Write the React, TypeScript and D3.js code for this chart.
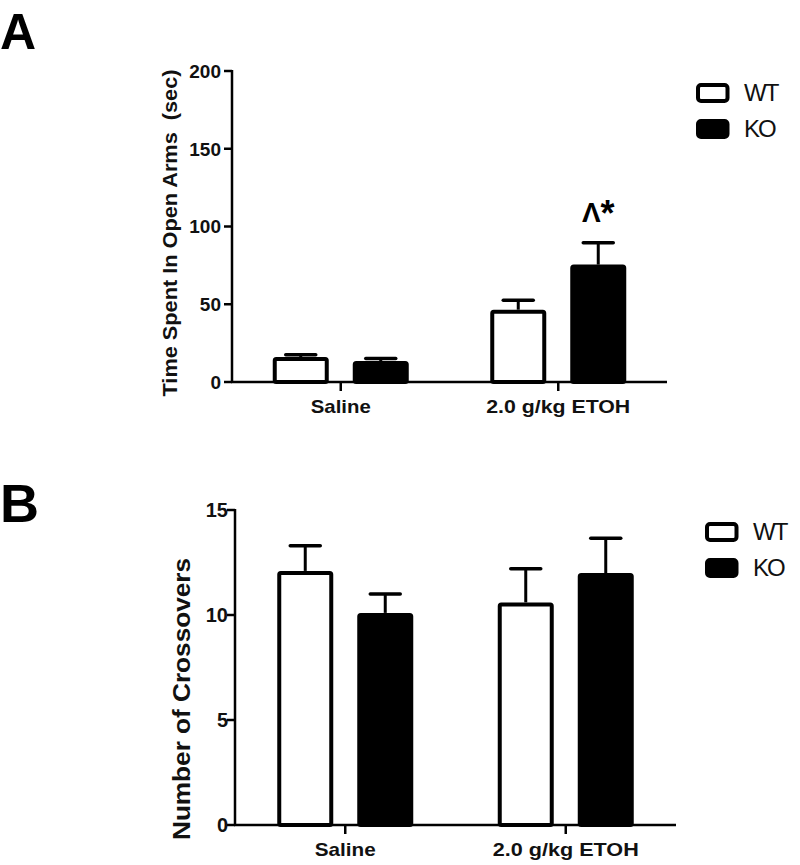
import React from "react";
import * as d3 from "d3";

const categories = ["Saline", "2.0 g/kg ETOH"];
const series = ["WT", "KO"];

// Panel A: Time spent in open arms (sec)
const openArmsMean = [
  [16, 46.5], // WT
  [13.5, 75.5], // KO
];
const openArmsSem = [
  [1.6, 6],
  [1.6, 14],
];
const openArmsTicks = [0, 50, 100, 150, 200];

// Panel B: Number of crossovers
const crossMean = [
  [12.1, 10.6], // WT
  [10.1, 12.0], // KO
];
const crossSem = [
  [1.2, 1.6],
  [0.9, 1.65],
];
const crossTicks = [0, 5, 10, 15];

const FONT = "'Liberation Sans', Arial, Helvetica, sans-serif";
const fills = ["#ffffff", "#000000"];

type PanelProps = {
  letter: string;
  letterY: number;
  letterSize: number;
  x0: number;
  x1: number;
  yTop: number;
  yBottom: number;
  yMax: number;
  ticks: number[];
  means: number[][];
  sems: number[][];
  yLabel: string;
  yLabelX: number;
  yLabelY: number;
  yLabelSize: number;
  yLabelLen: number;
  tickSize: number;
  tickRight: number;
  catBaseline: number;
  catSize: number;
  catLens: number[];
  legendX: number;
  legendY: number;
  annotation?: { s: number; c: number; text: string };
};

function Panel(p: PanelProps) {
  const y = d3.scaleLinear().domain([0, p.yMax]).range([p.yBottom, p.yTop]);
  const x = d3.scalePoint<string>().domain(categories).range([p.x0, p.x1]).padding(0.5);
  const sub = d3.scaleBand<string>().domain(series).range([-68, 68]).paddingInner(0.3).paddingOuter(0);
  const sw = 4;
  const capW = 30;
  return (
    <g>
      <text x={0} y={p.letterY} fontFamily={FONT} fontWeight="bold" fontSize={p.letterSize} fill="#000">
        {p.letter}
      </text>
      {/* bars */}
      {series.map((s, si) =>
        categories.map((c, ci) => {
          const v = p.means[si][ci];
          const e = p.sems[si][ci];
          const cx = (x(c) as number) + (sub(s) as number) + sub.bandwidth() / 2;
          const left = (x(c) as number) + (sub(s) as number) + sw / 2;
          const w = sub.bandwidth() - sw;
          const top = y(v);
          const capY = y(v + e);
          return (
            <g key={s + c}>
              <line x1={cx} x2={cx} y1={top} y2={capY} stroke="#000" strokeWidth={3} />
              <line x1={cx - capW / 2} x2={cx + capW / 2} y1={capY} y2={capY} stroke="#000" strokeWidth={3.5} strokeLinecap="round" />
              <rect x={left} y={top + sw / 2} width={w} height={p.yBottom - top - sw / 2} fill={fills[si]} stroke="#000" strokeWidth={sw} rx={1.5} />
            </g>
          );
        })
      )}
      {/* y axis */}
      <line x1={p.x0} x2={p.x0} y1={p.yTop - 1} y2={p.yBottom} stroke="#000" strokeWidth={2.5} />
      {p.ticks.map((t) => (
        <g key={t}>
          <line x1={p.x0 - 8} x2={p.x0} y1={y(t)} y2={y(t)} stroke="#000" strokeWidth={2.5} />
          <text x={p.tickRight} y={y(t)} dy="0.36em" textAnchor="end" fontFamily={FONT} fontWeight="bold" fontSize={p.tickSize} fill="#111">
            {t}
          </text>
        </g>
      ))}
      {/* x axis */}
      <line x1={p.x0 - 1} x2={p.x1} y1={p.yBottom} y2={p.yBottom} stroke="#000" strokeWidth={2.5} />
      {categories.map((c, ci) => (
        <g key={c}>
          <line x1={x(c)} x2={x(c)} y1={p.yBottom} y2={p.yBottom + 9} stroke="#000" strokeWidth={2.5} />
          <text
            x={x(c)}
            y={p.catBaseline}
            textAnchor="middle"
            fontFamily={FONT}
            fontWeight="bold"
            fontSize={p.catSize}
            fill="#111"
            textLength={p.catLens[ci]}
            lengthAdjust="spacingAndGlyphs"
          >
            {c}
          </text>
        </g>
      ))}
      {/* y label */}
      <text
        transform={`translate(${p.yLabelX},${p.yLabelY}) rotate(-90)`}
        textAnchor="middle"
        fontFamily={FONT}
        fontWeight="bold"
        fontSize={p.yLabelSize}
        fill="#111"
        textLength={p.yLabelLen}
        lengthAdjust="spacingAndGlyphs"
        style={{ whiteSpace: "pre" }}
      >
        {p.yLabel}
      </text>
      {/* annotation */}
      {p.annotation && (() => {
        const a = p.annotation!;
        const cx = (x(categories[a.c]) as number) + (sub(series[a.s]) as number) + sub.bandwidth() / 2;
        const topV = p.means[a.s][a.c] + p.sems[a.s][a.c];
        return (
          <text x={cx} y={y(topV) - 21} textAnchor="middle" fontFamily={FONT} fontWeight="bold" fill="#000">
            <tspan fontSize={28}>Λ</tspan>
            <tspan fontSize={36} dy={4}>*</tspan>
          </text>
        );
      })()}
      {/* legend */}
      {series.map((s, si) => (
        <g key={s} transform={`translate(${p.legendX},${p.legendY + si * 36})`}>
          <rect x={2} y={2} width={29.5} height={16} rx={3} fill={fills[si]} stroke="#000" strokeWidth={4} />
          <text x={48} y={18} fontFamily={FONT} fontSize={24} fill="#111" letterSpacing={-2}>
            {s}
          </text>
        </g>
      ))}
    </g>
  );
}

export default function App() {
  return (
    <svg width={800} height={865} style={{ display: "block", position: "absolute", left: 0, top: 0, background: "#fff" }}>
      <rect width={800} height={865} fill="#fff" />
      <Panel
        letter="A"
        letterY={49}
        letterSize={50}
        x0={232}
        x1={667}
        yTop={71}
        yBottom={382}
        yMax={200}
        ticks={openArmsTicks}
        means={openArmsMean}
        sems={openArmsSem}
        yLabel="Time Spent In Open Arms  (sec)"
        yLabelX={177}
        yLabelY={233}
        yLabelSize={21}
        yLabelLen={327}
        tickSize={19}
        tickRight={221}
        catBaseline={413}
        catSize={19}
        catLens={[60, 144]}
        legendX={696}
        legendY={83}
        annotation={{ s: 1, c: 1, text: "Λ*" }}
      />
      <Panel
        letter="B"
        letterY={522}
        letterSize={54}
        x0={235}
        x1={676}
        yTop={510}
        yBottom={825}
        yMax={15}
        ticks={crossTicks}
        means={crossMean}
        sems={crossSem}
        yLabel="Number of Crossovers"
        yLabelX={190}
        yLabelY={699}
        yLabelSize={24}
        yLabelLen={282}
        tickSize={20}
        tickRight={228}
        catBaseline={856}
        catSize={19}
        catLens={[61, 146]}
        legendX={705}
        legendY={522}
      />
    </svg>
  );
}
